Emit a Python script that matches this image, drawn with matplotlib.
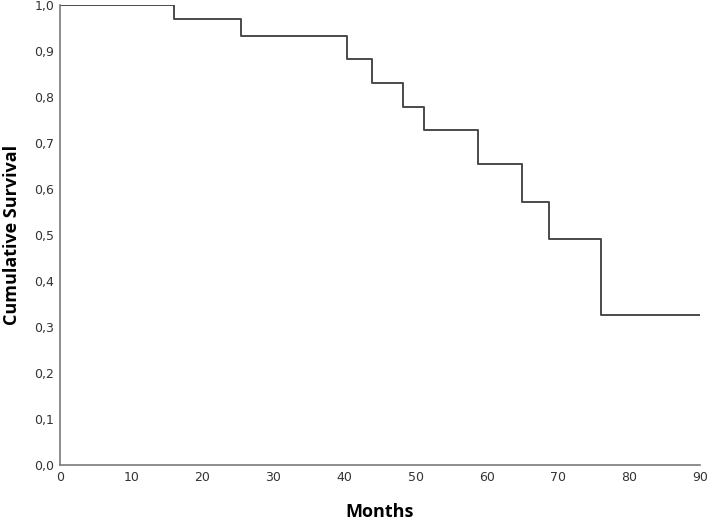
import matplotlib.pyplot as plt
from matplotlib.ticker import FuncFormatter

# Kaplan-Meier step curve
event_months = [0, 16.0, 25.5, 40.4, 43.9, 48.2, 51.2, 58.8, 65.0, 68.8, 76.1, 90.0]
survival = [1.0, 0.970, 0.933, 0.883, 0.830, 0.778, 0.728, 0.654, 0.572, 0.491, 0.326, 0.326]

x_ticks = [0, 10, 20, 30, 40, 50, 60, 70, 80, 90]
y_ticks = [0.0, 0.1, 0.2, 0.3, 0.4, 0.5, 0.6, 0.7, 0.8, 0.9, 1.0]

fig = plt.figure(figsize=(7.1, 5.2), dpi=100)
ax = fig.add_axes([0.0845, 0.1058, 0.9015, 0.8846])

ax.step(event_months, survival, where="post", color="#4a4a4a", linewidth=1.4)

ax.set_xlim(0, 90)
ax.set_ylim(0, 1.0)
ax.set_xticks(x_ticks)
ax.set_yticks(y_ticks)
ax.yaxis.set_major_formatter(FuncFormatter(lambda v, p: f"{v:.1f}".replace(".", ",")))
ax.tick_params(length=0, labelsize=9, colors="#333333", pad=4)
for lbl in ax.get_xticklabels() + ax.get_yticklabels():
    lbl.set_family("DejaVu Sans")

for side in ["top", "right"]:
    ax.spines[side].set_visible(False)
for side in ["left", "bottom"]:
    ax.spines[side].set_color("#7a7a7a")
    ax.spines[side].set_linewidth(1.2)

ax.set_xlabel("Months", fontsize=13, fontweight="bold", family="Open Sans", labelpad=14)
ax.set_ylabel("Cumulative Survival", fontsize=13, fontweight="bold", family="Open Sans", labelpad=10)

fig.savefig("out.png", dpi=100)
